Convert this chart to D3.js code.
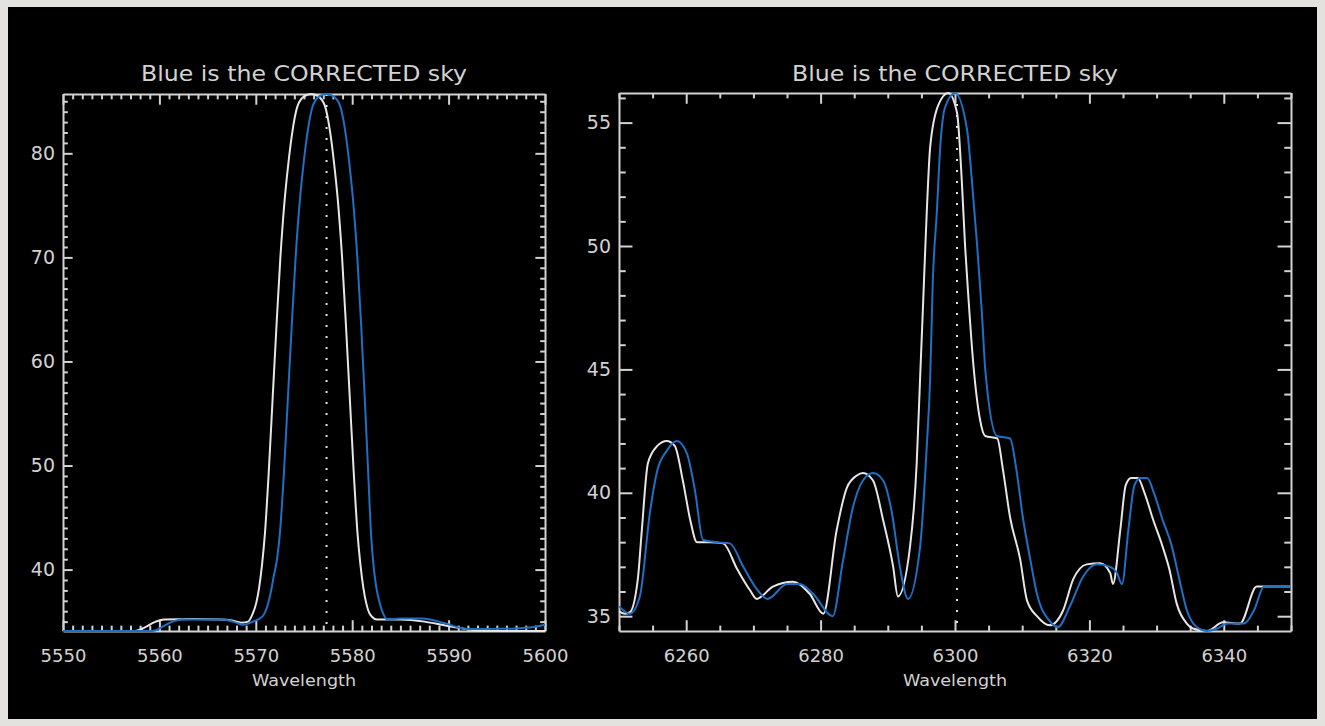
<!DOCTYPE html>
<html><head><meta charset="utf-8">
<script src="https://cdn.jsdelivr.net/npm/d3@7"></script>
<style>
html,body{margin:0;padding:0;background:#e3e2de;}
svg{display:block;}
</style></head><body>
<svg id="fig" width="1325" height="726"></svg>
<script>
// ---- [OI] 5577 sky line: raw sky (white) and wavelength-corrected sky (blue)
const raw5577 = [
  [5550,34.1],[5557.5,34.1],[5558.5,34.45],[5559.5,34.95],[5560.5,35.2],[5563.5,35.25],
  [5566.5,35.2],[5567.5,35.1],[5568.5,34.9],[5569.2,35.0],[5569.65,35.7],[5570.05,36.8],
  [5570.35,38.3],[5570.65,40.5],[5570.95,43.5],[5571.35,49.5],[5571.75,56.5],[5572.15,63.5],
  [5572.55,70],[5573.0,75.6],[5573.35,78.8],[5573.75,81.8],[5574.35,84.6],[5575.05,85.5],
  [5575.75,85.7],[5576.45,85.5],[5577.15,84.6],[5577.75,81.8],[5578.15,78.8],[5578.5,75.6],
  [5578.95,70],[5579.35,63.5],[5579.75,56.5],[5580.15,49.5],[5580.55,43.5],[5580.85,40.5],
  [5581.15,38.3],[5581.45,36.8],[5581.85,35.7],[5582.6,35.2],[5585,35.2],[5587.5,35.0],
  [5589.8,34.6],[5592.5,34.2],[5594,34.1],[5600,34.1]
];
const corr5577 = [
  [5550,34.1],[5559.3,34.1],[5560.5,34.6],[5561.5,35.05],[5562.3,35.2],[5566.6,35.2],
  [5567.8,34.95],[5568.7,34.7],[5569.7,35.0],[5570.7,35.5],[5571.2,36.5],[5571.55,37.8],
  [5571.85,39.3],[5572.2,41.0],[5572.5,43.5],[5572.93,49.5],[5573.33,56.5],[5573.73,63.5],
  [5574.13,70],[5574.58,75.6],[5574.93,78.8],[5575.33,81.8],[5575.93,84.6],[5576.63,85.5],
  [5577.33,85.7],[5578.03,85.5],[5578.73,84.6],[5579.33,81.8],[5579.73,78.8],[5580.08,75.6],
  [5580.53,70],[5580.93,63.5],[5581.3,56.5],[5581.65,49.5],[5581.95,43.5],[5582.2,40.5],
  [5582.5,38.3],[5582.85,36.8],[5583.25,35.7],[5583.6,35.2],[5585,35.3],[5587.3,35.3],
  [5589.4,34.9],[5591.9,34.3],[5594,34.3],[5597,34.35],[5599,34.5],[5600,34.7]
];

// ---- [OI] 6300 region
const raw6300 = [
  [6250.0,35.2],[6250.9,35.1],[6251.6,35.15],[6252.8,36.5],[6253.4,38.5],[6254.3,41.2],
  [6255.7,41.9],[6257.1,42.1],[6258.3,41.9],[6259.5,40.5],[6260.6,38.9],[6261.6,38.0],
  [6263.5,38.0],[6265.5,37.95],[6267.6,36.9],[6269.5,36.05],[6270.5,35.7],[6272.9,36.2],
  [6275.9,36.4],[6278.4,35.9],[6280.4,35.1],[6282.4,38.5],[6283.9,40.2],[6285.4,40.7],
  [6286.3,40.8],[6287.8,40.5],[6289.3,38.9],[6290.8,37.0],[6291.5,35.8],[6293.3,37.8],
  [6294.3,41.2],[6294.8,44.6],[6295.2,47.3],[6295.8,51.4],[6296.3,54.0],[6297.5,55.7],
  [6299.0,56.2],[6300.3,55.4],[6301.0,52.7],[6301.5,50.0],[6302.0,47.9],[6302.7,45.3],
  [6303.7,43.0],[6304.5,42.3],[6306.3,42.2],[6307.1,41.0],[6308.2,39.0],[6309.7,37.3],
  [6310.7,35.65],[6312.2,35.0],[6314.1,34.63],[6316.1,35.24],[6317.6,36.5],[6319.6,37.1],
  [6321.6,37.15],[6323.1,36.75],[6323.5,36.3],[6324.6,38.5],[6325.4,40.3],[6326.2,40.6],
  [6327.2,40.6],[6328.2,40.0],[6329.5,38.9],[6330.8,37.9],[6331.9,36.9],[6333.0,35.5],
  [6334.5,34.7],[6335.4,34.5],[6337.5,34.4],[6339.9,34.75],[6342.4,34.7],[6344.9,36.2],
  [6350.0,36.2]
];
const corr6300 = [
  [6250.0,35.4],[6251.6,35.1],[6253.1,35.8],[6254.6,39.2],[6255.7,40.9],[6257.1,41.7],
  [6258.6,42.1],[6260.1,41.6],[6261.3,40.1],[6262.5,38.1],[6264.5,38.0],[6266.5,37.95],
  [6268.5,37.0],[6270.5,36.1],[6272.1,35.7],[6275.0,36.3],[6276.9,36.3],[6278.9,35.9],
  [6281.8,35.0],[6283.3,37.2],[6284.8,39.4],[6286.3,40.5],[6287.8,40.8],[6289.3,40.5],
  [6290.6,39.2],[6291.8,37.0],[6293.0,35.7],[6294.8,37.8],[6295.8,41.9],[6296.3,44.6],
  [6296.7,48.6],[6297.3,51.4],[6297.8,54.0],[6298.5,55.6],[6300.0,56.2],[6301.8,54.7],
  [6302.5,52.7],[6303.3,50.0],[6304.0,47.3],[6304.5,45.0],[6306.25,42.3],[6308.2,42.2],
  [6309.1,41.0],[6310.1,39.0],[6311.2,37.3],[6312.2,35.9],[6314.1,34.8],[6315.3,34.55],
  [6317.1,35.4],[6319.05,36.6],[6321.1,37.1],[6323.1,37.0],[6324.1,36.75],[6324.85,36.3],
  [6325.8,38.5],[6326.7,40.3],[6327.6,40.6],[6328.6,40.6],[6329.6,40.0],[6330.9,38.9],
  [6332.2,37.9],[6333.3,36.6],[6334.5,35.24],[6336.0,34.55],[6337.5,34.4],[6339.0,34.5],
  [6340.5,34.7],[6343.0,34.7],[6344.5,35.24],[6346.0,36.2],[6350.0,36.2]
];

// axis ranges, tick labels and reference line positions
const xRange5577 = [5550, 5600];
const xTicks5577 = [5550, 5560, 5570, 5580, 5590, 5600];
const yTicks5577 = [40, 50, 60, 70, 80];
const line5577 = 5577.34;

const xRange6300 = [6250, 6350];
const xTicks6300 = [6260, 6280, 6300, 6320, 6340];
const yTicks6300 = [35, 40, 45, 50, 55];
const line6300 = 6300.30;

const titleText = "Blue is the CORRECTED sky";
const xLabelText = "Wavelength";

const svg = d3.select("#fig");

// black plotting window
svg.append("rect").attr("x", 8).attr("y", 7).attr("width", 1309).attr("height", 712).attr("fill", "#000");

const FG = "#d2d2d2";
const FONT = "DejaVu Sans, sans-serif";
const fmt = d3.format("d");

const root = svg.append("g");

function panel(cfg) {
  const g = root.append("g");
  const all = cfg.raw.concat(cfg.corr).map(d => d[1]);
  const x = d3.scaleLinear().domain(cfg.xRange).range([cfg.left, cfg.right]);
  const y = d3.scaleLinear().domain(d3.extent(all)).range([cfg.bottom, cfg.top]);
  const pw = cfg.right - cfg.left, ph = cfg.bottom - cfg.top;
  const xLen = 0.02 * ph, yLen = 0.02 * pw;

  const xMinor = d3.range(cfg.xRange[0], cfg.xRange[1] + 1e-9, cfg.xMinorStep)
    .filter(v => !cfg.xTicks.some(t => Math.abs(t - v) < 1e-6));
  const yMinorVals = d3.range(Math.ceil(y.domain()[0]), y.domain()[1], cfg.yMinorStep)
    .filter(v => !cfg.yTicks.includes(v));

  function styleAxis(sel) {
    sel.selectAll("path.domain").attr("stroke", FG).attr("stroke-width", 2);
    sel.selectAll(".tick line").attr("stroke", FG).attr("stroke-width", 2);
    sel.selectAll(".tick text").attr("fill", FG).attr("font-family", FONT);
  }

  // bottom axis with labels
  const bx = g.append("g").attr("transform", `translate(0,${cfg.bottom})`)
    .call(d3.axisBottom(x).tickValues(cfg.xTicks).tickSizeInner(-xLen).tickSizeOuter(0).tickFormat(fmt));
  styleAxis(bx);
  bx.selectAll(".tick text").attr("font-size", 18).attr("dy", 0).attr("y", 31);
  g.append("g").attr("transform", `translate(0,${cfg.bottom})`)
    .call(d3.axisBottom(x).tickValues(xMinor).tickSizeInner(-xLen / 2).tickSizeOuter(0).tickFormat(""))
    .call(styleAxis).select("path.domain").remove();

  // top axis (ticks only)
  const tx = g.append("g").attr("transform", `translate(0,${cfg.top})`)
    .call(d3.axisTop(x).tickValues(cfg.xTicks).tickSizeInner(-xLen).tickSizeOuter(0).tickFormat(""));
  styleAxis(tx);
  g.append("g").attr("transform", `translate(0,${cfg.top})`)
    .call(d3.axisTop(x).tickValues(xMinor).tickSizeInner(-xLen / 2).tickSizeOuter(0).tickFormat(""))
    .call(styleAxis).select("path.domain").remove();

  // left axis with labels
  const ly = g.append("g").attr("transform", `translate(${cfg.left},0)`)
    .call(d3.axisLeft(y).tickValues(cfg.yTicks).tickSizeInner(-yLen).tickSizeOuter(0).tickPadding(8).tickFormat(fmt));
  styleAxis(ly);
  ly.selectAll(".tick text").attr("font-size", 19);
  g.append("g").attr("transform", `translate(${cfg.left},0)`)
    .call(d3.axisLeft(y).tickValues(yMinorVals).tickSizeInner(-yLen / 2).tickSizeOuter(0).tickFormat(""))
    .call(styleAxis).select("path.domain").remove();

  // right axis (ticks only)
  const ry = g.append("g").attr("transform", `translate(${cfg.right},0)`)
    .call(d3.axisRight(y).tickValues(cfg.yTicks).tickSizeInner(-yLen).tickSizeOuter(0).tickFormat(""));
  styleAxis(ry);
  g.append("g").attr("transform", `translate(${cfg.right},0)`)
    .call(d3.axisRight(y).tickValues(yMinorVals).tickSizeInner(-yLen / 2).tickSizeOuter(0).tickFormat(""))
    .call(styleAxis).select("path.domain").remove();

  // rest wavelength of the sky emission line
  g.append("line")
    .attr("x1", x(cfg.refLine)).attr("x2", x(cfg.refLine))
    .attr("y1", cfg.top).attr("y2", cfg.bottom)
    .attr("stroke", "#e0e0e0").attr("stroke-width", 2).attr("stroke-dasharray", "2,9");

  const line = d3.line().x(d => x(d[0])).y(d => y(d[1])).curve(d3.curveMonotoneX);
  const clipId = "clip" + cfg.left;
  g.append("clipPath").attr("id", clipId).append("rect")
    .attr("x", cfg.left).attr("y", cfg.top - 1).attr("width", pw).attr("height", ph + 2);
  const curves = g.append("g").attr("clip-path", `url(#${clipId})`);
  curves.append("path").datum(cfg.raw).attr("d", line)
    .attr("fill", "none").attr("stroke", "#e6e6e6").attr("stroke-width", 2);
  curves.append("path").datum(cfg.corr).attr("d", line)
    .attr("fill", "none").attr("stroke", "#1f6fc4").attr("stroke-width", 2);

  // title and axis label
  g.append("text").attr("x", (cfg.left + cfg.right) / 2).attr("y", 81)
    .attr("text-anchor", "middle").attr("fill", FG).attr("font-family", FONT).attr("font-size", 21)
    .attr("textLength", 326).attr("lengthAdjust", "spacingAndGlyphs").text(titleText);
  g.append("text").attr("x", (cfg.left + cfg.right) / 2).attr("y", 686)
    .attr("text-anchor", "middle").attr("fill", FG).attr("font-family", FONT).attr("font-size", 16)
    .attr("textLength", 104).attr("lengthAdjust", "spacingAndGlyphs").text(xLabelText);
}

panel({
  left: 63, right: 545, top: 94, bottom: 631,
  xRange: xRange5577, xTicks: xTicks5577, xMinorStep: 1,
  yTicks: yTicks5577, yMinorStep: 1, refLine: line5577,
  raw: raw5577, corr: corr5577
});
panel({
  left: 619, right: 1291, top: 93, bottom: 631,
  xRange: xRange6300, xTicks: xTicks6300, xMinorStep: 5,
  yTicks: yTicks6300, yMinorStep: 1, refLine: line6300,
  raw: raw6300, corr: corr6300
});
</script></body></html>
